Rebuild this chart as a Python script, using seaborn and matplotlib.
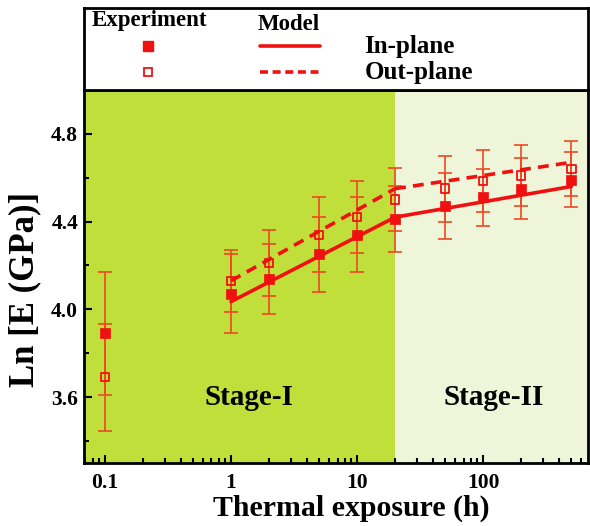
import matplotlib
matplotlib.use("Agg")
import matplotlib.pyplot as plt
import matplotlib.ticker as mticker
from matplotlib.lines import Line2D
import numpy as np
import pandas as pd
import seaborn as sns

# Measured Young's modulus (log scale) versus thermal exposure time
hours = [0.1, 1, 2, 5, 10, 20, 50, 100, 200, 500]
in_plane = [3.89, 4.07, 4.14, 4.25, 4.34, 4.41, 4.47, 4.51, 4.55, 4.59]
in_err = [0.28, 0.18, 0.16, 0.17, 0.17, 0.15, 0.15, 0.13, 0.14, 0.125]
out_plane = [3.69, 4.13, 4.21, 4.34, 4.42, 4.50, 4.55, 4.585, 4.61, 4.64]
out_err = [0.245, 0.14, 0.15, 0.17, 0.165, 0.145, 0.15, 0.14, 0.14, 0.125]

# Piecewise model predictions (Stage-I: 1-20 h, Stage-II: 20-500 h)
model_hours = [1, 20, 500]
model_in = [4.035, 4.42, 4.56]
model_out = [4.13, 4.55, 4.67]

stage_split = 20
x_limits = (0.068, 680)
y_limits = (3.3, 5.0)

RED = "#f01010"
ERR = "#ec4a22"
STAGE1 = "#c0df3a"
STAGE2 = "#eef5d8"

sns.set_theme(style="ticks")
plt.rcParams["font.family"] = ["Liberation Serif", "DejaVu Serif"]
plt.rcParams["font.weight"] = "bold"
plt.rcParams["axes.labelweight"] = "bold"
for key in ["text.color", "axes.labelcolor", "xtick.color", "ytick.color",
            "xtick.labelcolor", "ytick.labelcolor"]:
    plt.rcParams[key] = "black"

fig = plt.figure(figsize=(5.9, 5.26), dpi=100)
ax = fig.add_axes([0.142, 0.120, 0.855, 0.709])
lax = fig.add_axes([0.142, 0.829, 0.855, 0.156])

ax.set_xscale("log")
ax.set_xlim(*x_limits)
ax.set_ylim(*y_limits)

ax.axvspan(x_limits[0], stage_split, color=STAGE1, zorder=0, lw=0)
ax.axvspan(stage_split, x_limits[1], color=STAGE2, zorder=0, lw=0)

# error bars for both orientations
ax.errorbar(hours, in_plane, yerr=in_err, fmt="none", ecolor=ERR,
            elinewidth=1.2, capsize=5, capthick=1.2, zorder=2)
ax.errorbar(hours, out_plane, yerr=out_err, fmt="none", ecolor=ERR,
            elinewidth=1.2, capsize=5, capthick=1.2, zorder=2)

# model lines, drawn per stage
for lo, hi in [(0, 2), (1, 3)]:
    seg = pd.DataFrame({"t": model_hours[lo:hi], "in": model_in[lo:hi],
                        "out": model_out[lo:hi]})
    sns.lineplot(data=seg, x="t", y="in", ax=ax, color=RED, lw=2.6,
                 zorder=3, legend=False)
    sns.lineplot(data=seg, x="t", y="out", ax=ax, color=RED, lw=2.6,
                 zorder=3, legend=False, dashes=False, linestyle=(0, (3, 2)))

exp = pd.DataFrame({"t": hours, "in": in_plane, "out": out_plane})
sns.scatterplot(data=exp, x="t", y="out", ax=ax, marker="s", s=36,
                facecolor="none", edgecolor=RED, linewidth=1.3, zorder=4)
sns.scatterplot(data=exp, x="t", y="in", ax=ax, marker="s", s=50,
                color=RED, edgecolor=RED, linewidth=0.5, zorder=5)

ax.text(1.39, 3.6, "Stage-I", ha="center", va="center", fontsize=21,
        fontweight="bold", color="black")
ax.text(120, 3.6, "Stage-II", ha="center", va="center", fontsize=21,
        fontweight="bold", color="black")

ax.set_xlabel("Thermal exposure (h)", fontsize=21.5, fontweight="bold")
ax.set_ylabel("Ln [E (GPa)]", fontsize=25, fontweight="bold")
ax.xaxis.set_label_coords(0.53, -0.085)
ax.yaxis.set_label_coords(-0.085, 0.465)

ax.xaxis.set_major_locator(mticker.LogLocator(base=10, numticks=10))
ax.xaxis.set_minor_locator(mticker.LogLocator(base=10, subs=np.arange(2, 10), numticks=20))
ax.xaxis.set_major_formatter(mticker.FuncFormatter(lambda v, p: f"{v:g}"))
ax.yaxis.set_major_locator(mticker.MultipleLocator(0.4))
ax.yaxis.set_minor_locator(mticker.MultipleLocator(0.2))
ax.yaxis.set_major_formatter(mticker.FormatStrFormatter("%.1f"))
ax.tick_params(which="both", direction="in", top=False, right=False,
               labelsize=15.5, width=1.5, color="black", labelcolor="black")
ax.tick_params(which="major", length=6)
ax.tick_params(axis="x", which="major", pad=7)
ax.tick_params(axis="y", which="major", pad=4)
ax.tick_params(which="minor", length=3.5)
for lbl in ax.get_xticklabels() + ax.get_yticklabels():
    lbl.set_fontweight("bold")
for sp in ax.spines.values():
    sp.set_visible(True)
    sp.set_linewidth(2)
    sp.set_color("black")

# legend panel
lax.set_xlim(0, 1)
lax.set_ylim(0, 1)
lax.set_xticks([])
lax.set_yticks([])
for sp in lax.spines.values():
    sp.set_linewidth(2)
    sp.set_color("black")
lax.text(0.016, 0.85, "Experiment", fontsize=16.5, fontweight="bold", va="center")
lax.text(0.345, 0.80, "Model", fontsize=16.5, fontweight="bold", va="center")
lax.text(0.556, 0.53, "In-plane", fontsize=18, fontweight="bold", va="center")
lax.text(0.556, 0.21, "Out-plane", fontsize=18, fontweight="bold", va="center")
lax.add_line(Line2D([0.128], [0.54], marker="s", ms=7, color=RED, ls="none"))
lax.add_line(Line2D([0.128], [0.22], marker="s", ms=6, mfc="none", mec=RED,
                    mew=1.3, ls="none"))
lax.add_line(Line2D([0.35, 0.468], [0.54, 0.54], color=RED, lw=2.6))
lax.add_line(Line2D([0.35, 0.468], [0.22, 0.22], color=RED, lw=2.6,
                    ls=(0, (2.2, 1.3))))

fig.savefig("out.png", dpi=100)
